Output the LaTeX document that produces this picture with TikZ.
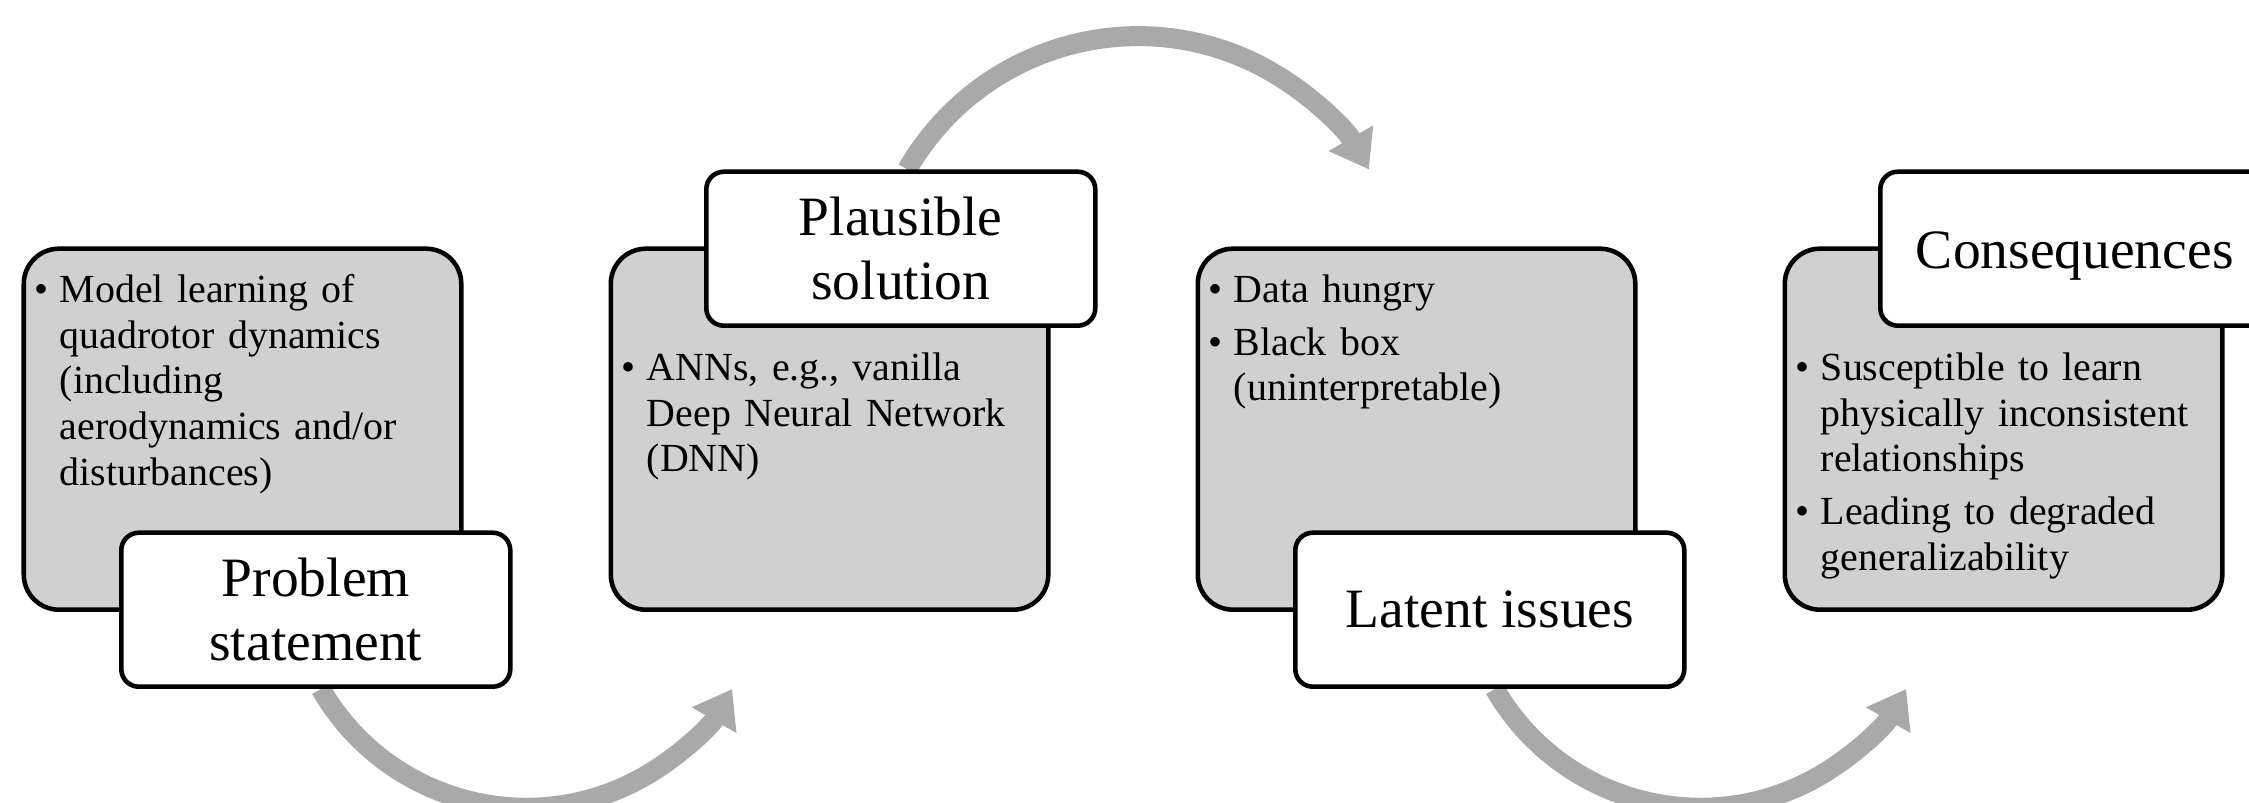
\documentclass[tikz,border=0pt]{standalone}
\usepackage{fontspec}
\setmainfont{Liberation Serif}
\usepackage{enumitem}
\usetikzlibrary{arrows.meta,backgrounds}

\definecolor{panelgray}{RGB}{208,208,208}
\definecolor{arcgray}{RGB}{169,169,169}

\newcommand{\bodyfont}{\fontsize{22.7}{26.1}\selectfont}
\newcommand{\titlefont}{\fontsize{31.6}{36.7}\selectfont}

\setlist[itemize]{label=\textbullet, nosep, itemsep=4pt, leftmargin=*, labelsep=6.4pt}

\tikzset{
  panel/.style={draw=black, line width=2.6pt, fill=panelgray, rounded corners=20pt,
    minimum width=8.75cm, minimum height=7.22cm, anchor=south west},
  tag/.style={draw=black, line width=2.6pt, fill=white, rounded corners=10pt,
    minimum width=7.78cm, minimum height=3.08cm, align=center, font=\titlefont},
  bullets/.style={anchor=north west, inner sep=0pt, text width=7.9cm, align=left, font=\bodyfont},
  flow/.style={draw=arcgray, line width=0.4cm, -{Triangle[width=0.98cm,length=0.72cm]}}
}

\begin{document}
\begin{tikzpicture}

    % Page frame
    \useasboundingbox (0,0) rectangle (44.98,16.06);
    \clip (0,0) rectangle (44.98,16.06);

    % Grey panels
    \node[panel] (probbox) at (0.43,3.82) {};
    \node[panel] (solbox)  at (12.17,3.82) {};
    \node[panel] (issbox)  at (23.91,3.82) {};
    \node[panel] (conbox)  at (35.65,3.82) {};

    % Panel texts
    \node[bullets] (probtext) at ([xshift=0.255cm,yshift=-0.19cm]probbox.north west) {%
      \begin{itemize}
        \item Model learning of\\ quadrotor dynamics\\ (including\\ aerodynamics and/or\\ disturbances)
      \end{itemize}};
    \node[bullets] (soltext) at ([xshift=0.255cm,yshift=-1.75cm]solbox.north west) {%
      \begin{itemize}
        \item ANNs, e.g., vanilla\\ Deep Neural Network\\ (DNN)
      \end{itemize}};
    \node[bullets] (isstext) at ([xshift=0.255cm,yshift=-0.19cm]issbox.north west) {%
      \begin{itemize}
        \item Data hungry
        \item Black box\\ (uninterpretable)
      \end{itemize}};
    \node[bullets] (context) at ([xshift=0.255cm,yshift=-1.75cm]conbox.north west) {%
      \begin{itemize}
        \item Susceptible to learn\\ physically inconsistent\\ relationships
        \item Leading to degraded\\ generalizability
      \end{itemize}};

    % Title tags
    \node[tag, anchor=south west] (prob) at ([xshift=1.95cm,yshift=-1.54cm]probbox.south west) {Problem\\statement};
    \node[tag, anchor=north west] (sol)  at ([xshift=1.91cm,yshift=1.54cm]solbox.north west) {Plausible\\solution};
    \node[tag, anchor=south west] (iss)  at ([xshift=1.95cm,yshift=-1.54cm]issbox.south west) {Latent issues};
    \node[tag, anchor=north west, text height=30pt, text depth=7pt] (con) at ([xshift=1.91cm,yshift=1.54cm]conbox.north west) {Consequences};

    % Curved arrows
    \begin{scope}[on background layer]
      \draw[flow] ([xshift=0.1cm]prob.south) arc[start angle=210, end angle=330, radius=4.75cm];
      \draw[flow] ([xshift=0.13cm]sol.north) arc[start angle=150, end angle=30, radius=5.33cm];
      \draw[flow] ([xshift=0.1cm]iss.south) arc[start angle=210, end angle=330, radius=4.75cm];
    \end{scope}

\end{tikzpicture}
\end{document}
